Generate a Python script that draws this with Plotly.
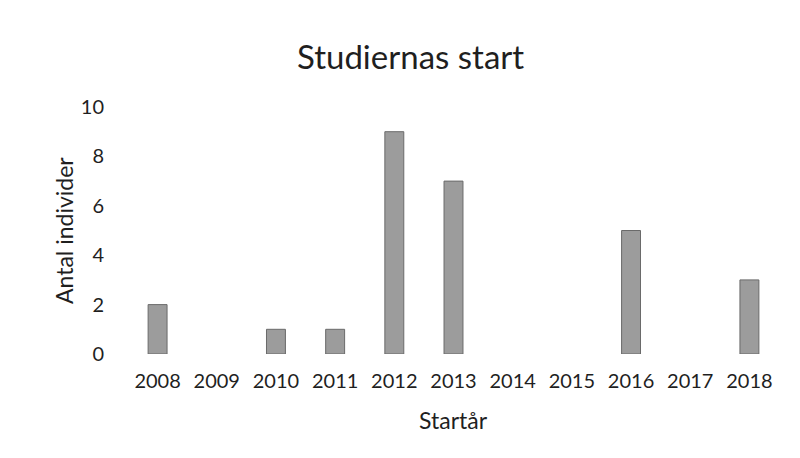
import plotly.graph_objects as go

years = ["2008", "2009", "2010", "2011", "2012", "2013", "2014", "2015", "2016", "2017", "2018"]
counts = [2, 0, 1, 1, 9, 7, 0, 0, 5, 0, 3]
y_ticks = [0, 2, 4, 6, 8, 10]

title_text = "Studiernas start"
x_title = "Startår"
y_title = "Antal individer"

FONT = "Lato, Carlito, Calibri, sans-serif"
TXT = "#1f1f1f"

# page body has an 8px default margin; size the figure so the visible page is 800x458
OFF = 8
W, H = 800 - OFF, 458 - OFF
l, t = 128 - OFF, 107 - OFF
r = W - (779 - OFF)
b = H - (354 - OFF)
pw, ph = W - l - r, H - t - b


def px_to_paper(px, py):
    return ((px - OFF) - l) / pw, (H - b - (py - OFF)) / ph


line_cols = ["#6a6a6a" if v > 0 else "rgba(0,0,0,0)" for v in counts]

fig = go.Figure()
fig.add_trace(go.Bar(
    x=years, y=counts,
    marker=dict(color="#9c9c9c", line=dict(color=line_cols, width=1)),
    width=0.32,
))

tx, ty = px_to_paper(410, 56)
sx, sy = px_to_paper(453, 420)
ax_, ay_ = px_to_paper(64, 231)

fig.update_layout(
    width=W, height=H,
    margin=dict(l=l, r=r, t=t, b=b),
    paper_bgcolor="white", plot_bgcolor="white",
    font=dict(family=FONT, color=TXT, size=20),
    showlegend=False,
    xaxis=dict(
        type="category", showgrid=False, showline=False, zeroline=False,
        ticks="outside", ticklen=9, tickcolor="rgba(0,0,0,0)",
        tickfont=dict(size=20, color=TXT),
        range=[-0.5, 10.5],
    ),
    yaxis=dict(
        range=[0, 10], tickvals=y_ticks, showgrid=False, showline=False, zeroline=False,
        ticks="outside", ticklen=19, tickcolor="rgba(0,0,0,0)",
        tickfont=dict(size=20, color=TXT),
    ),
    annotations=[
        dict(text=title_text, x=tx, y=ty, xref="paper", yref="paper",
             xanchor="center", yanchor="middle", showarrow=False,
             font=dict(size=33, color=TXT, family=FONT)),
        dict(text=x_title, x=sx, y=sy, xref="paper", yref="paper",
             xanchor="center", yanchor="middle", showarrow=False,
             font=dict(size=23, color=TXT, family=FONT)),
        dict(text=y_title, x=ax_, y=ay_, xref="paper", yref="paper", textangle=-90,
             xanchor="center", yanchor="middle", showarrow=False,
             font=dict(size=23, color=TXT, family=FONT)),
    ],
)

fig.write_html("out.html")
